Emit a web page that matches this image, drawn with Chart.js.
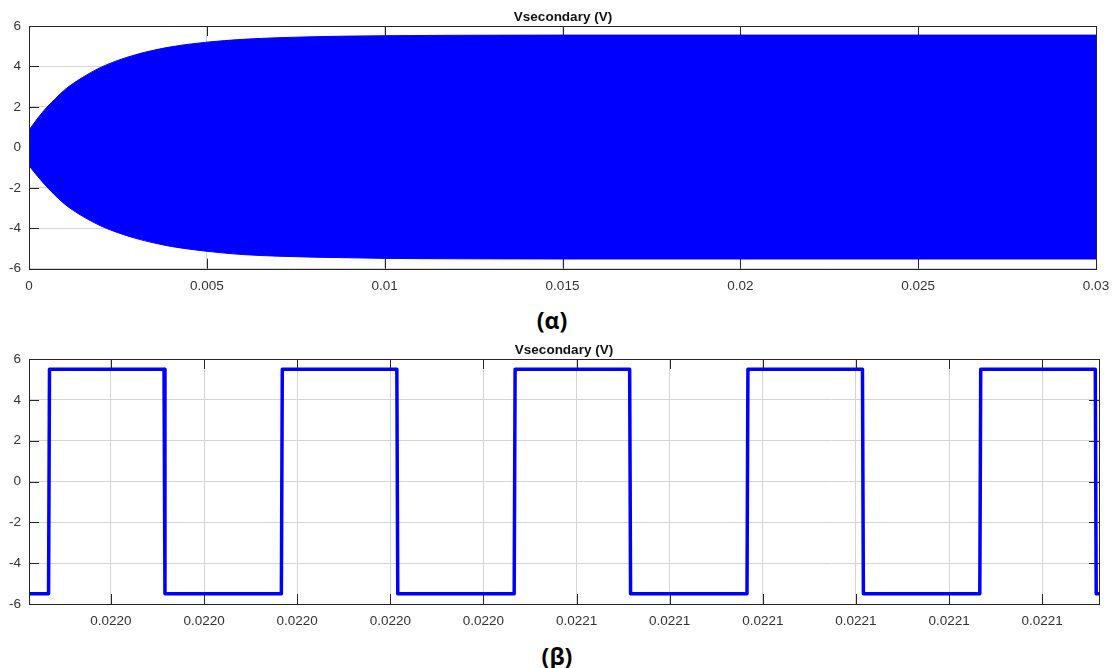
<!DOCTYPE html>
<html>
<head>
<meta charset="utf-8">
<title>Vsecondary</title>
<script src="https://cdn.jsdelivr.net/npm/chart.js@4.4.1/dist/chart.umd.min.js"></script>
<style>
  html, body { margin: 0; padding: 0; background: #fff; }
  body { width: 1112px; height: 668px; position: relative; overflow: hidden; }
  .box { position: absolute; left: 0; width: 1112px; height: 300px; }
  .caption, .title {
    position: absolute; transform: translate(-50%, -50%); white-space: nowrap; line-height: 1;
  }
  .caption { font-family: "Open Sans", sans-serif; font-weight: 700; font-size: 23px; color: #000; }
  .title { font-family: "Liberation Sans", Arial, sans-serif; font-weight: 700; font-size: 13.5px; color: #111; }
</style>
</head>
<body>
<div class="box" style="top:0"><canvas id="chartTop"></canvas></div>
<div class="title" style="left:563px; top:16.5px">Vsecondary (V)</div>
<div class="caption" style="left:552px; top:320px">(α)</div>
<div class="box" style="top:333px"><canvas id="chartBottom"></canvas></div>
<div class="title" style="left:564px; top:350px">Vsecondary (V)</div>
<div class="caption" style="left:557px; top:656px">(β)</div>

<script>
// (α) envelope of the fast oscillation
const envTime = [0, 0.00025, 0.0005, 0.00075, 0.001, 0.0015, 0.002, 0.0025, 0.003, 0.0035, 0.004, 0.0045,
  0.005, 0.006, 0.007, 0.008, 0.009, 0.01, 0.012, 0.015, 0.02, 0.025, 0.03];
const envUpper = [0.85, 1.45, 1.98, 2.42, 2.84, 3.45, 3.94, 4.3, 4.58, 4.8, 4.97, 5.1,
  5.2, 5.34, 5.42, 5.47, 5.5, 5.52, 5.54, 5.55, 5.55, 5.55, 5.55];
const envLower = [-0.9, -1.45, -1.95, -2.4, -2.8, -3.4, -3.87, -4.22, -4.5, -4.72, -4.9, -5.03,
  -5.14, -5.3, -5.38, -5.43, -5.46, -5.49, -5.51, -5.52, -5.52, -5.52, -5.52];

// (β) zoomed square wave
const sqTime = [0.02204410, 0.02204433, 0.02204434, 0.02204557, 0.02204558, 0.02204683, 0.02204684,
  0.02204807, 0.02204808, 0.02204933, 0.02204934, 0.02205057, 0.02205058, 0.02205183, 0.02205184,
  0.02205307, 0.02205308, 0.02205433, 0.02205434, 0.02205557, 0.02205558, 0.02205570];
const sqVolt = [-5.5, -5.5, 5.5, 5.5, -5.5, -5.5, 5.5,
  5.5, -5.5, -5.5, 5.5, 5.5, -5.5, -5.5, 5.5,
  5.5, -5.5, -5.5, 5.5, 5.5, -5.5, -5.5];

// ticks
const yTickValues = [-6, -4, -2, 0, 2, 4, 6];
const yTickLabels = ["-6", "-4", "-2", "0", "2", "4", "6"];
const topXTickValues = [0, 0.005, 0.01, 0.015, 0.02, 0.025, 0.03];
const topXTickLabels = ["0", "0.005", "0.01", "0.015", "0.02", "0.025", "0.03"];
const botXTickValues = [0.022045, 0.022046, 0.022047, 0.022048, 0.022049, 0.022050,
  0.022051, 0.022052, 0.022053, 0.022054, 0.022055];
const botXTickLabels = ["0.0220", "0.0220", "0.0220", "0.0220", "0.0220", "0.0221",
  "0.0221", "0.0221", "0.0221", "0.0221", "0.0221"];

const BLUE = "rgb(0,0,255)";
const AXIS = "#262626";
const GRID = "#d4d4d4";
const TICK_FONT = { family: "'Liberation Sans', Arial, sans-serif", size: 13.5 };

// matlab style: ticks inside the box, drawn under the data, box drawn over it
const matlabBox = {
  id: "matlabBox",
  beforeDatasetsDraw(chart) {
    const { ctx, chartArea: a, scales } = chart;
    const len = 10;
    ctx.save();
    ctx.strokeStyle = AXIS;
    ctx.lineWidth = 1;
    ctx.beginPath();
    scales.x.ticks.forEach((t) => {
      const px = Math.round(scales.x.getPixelForValue(t.value)) + 0.5;
      ctx.moveTo(px, a.top); ctx.lineTo(px, a.top + len);
      ctx.moveTo(px, a.bottom); ctx.lineTo(px, a.bottom - len);
    });
    scales.y.ticks.forEach((t) => {
      const py = Math.round(scales.y.getPixelForValue(t.value)) + 0.5;
      ctx.moveTo(a.left, py); ctx.lineTo(a.left + len, py);
      ctx.moveTo(a.right, py); ctx.lineTo(a.right - len, py);
    });
    ctx.stroke();
    ctx.restore();
  },
  afterDatasetsDraw(chart) {
    const { ctx, chartArea: a } = chart;
    ctx.save();
    ctx.strokeStyle = AXIS;
    ctx.lineWidth = 1;
    ctx.strokeRect(Math.round(a.left) + 0.5, Math.round(a.top) + 0.5,
      Math.round(a.right - a.left), Math.round(a.bottom - a.top));
    ctx.restore();
  },
};

function makeOptions(xMin, xMax, xVals, xLabels, xHeight, padRight) {
  return {
    responsive: true,
    maintainAspectRatio: false,
    animation: false,
    layout: { padding: { left: 0, right: padRight, top: 26, bottom: 0 } },
    plugins: {
      legend: { display: false },
      tooltip: { enabled: false },
      title: { display: false },
    },
    scales: {
      x: {
        type: "linear",
        min: xMin,
        max: xMax,
        afterBuildTicks: (axis) => { axis.ticks = xVals.map((v) => ({ value: v })); },
        afterFit: (axis) => {
          axis.height = xHeight;
          axis.paddingLeft = 0;
          axis.paddingRight = 0;
        },
        grid: { color: GRID, drawTicks: false },
        border: { display: false },
        ticks: {
          autoSkip: false, maxRotation: 0, padding: 9,
          color: "#333", font: TICK_FONT,
          callback: (value, index) => xLabels[index],
        },
      },
      y: {
        min: -6,
        max: 6,
        afterBuildTicks: (axis) => { axis.ticks = yTickValues.map((v) => ({ value: v })); },
        afterFit: (axis) => {
          axis.width = 29;
          axis.paddingTop = 0;
          axis.paddingBottom = 0;
        },
        grid: { color: GRID, drawTicks: false },
        border: { display: false },
        ticks: {
          padding: 8,
          color: "#333", font: TICK_FONT,
          callback: (value, index) => yTickLabels[index],
        },
      },
    },
  };
}

document.addEventListener("DOMContentLoaded", function () {
  const upperPts = envTime.map((t, i) => ({ x: t, y: envUpper[i] }));
  const lowerPts = envTime.map((t, i) => ({ x: t, y: envLower[i] }));

  new Chart(document.getElementById("chartTop"), {
    type: "line",
    data: {
      datasets: [
        {
          data: upperPts, fill: "+1", backgroundColor: BLUE, borderColor: BLUE,
          borderWidth: 1, pointRadius: 0, cubicInterpolationMode: "monotone",
        },
        {
          data: lowerPts, fill: false, borderColor: BLUE,
          borderWidth: 1, pointRadius: 0, cubicInterpolationMode: "monotone",
        },
      ],
    },
    options: makeOptions(0, 0.03, topXTickValues, topXTickLabels, 31.3, 16),
    plugins: [matlabBox],
  });

  const sqPts = sqTime.map((t, i) => ({ x: t, y: sqVolt[i] }));

  new Chart(document.getElementById("chartBottom"), {
    type: "line",
    data: {
      datasets: [
        {
          data: sqPts, fill: false, borderColor: BLUE, borderWidth: 3.5,
          borderJoinStyle: "round", pointRadius: 0, tension: 0,
        },
      ],
    },
    options: makeOptions(0.02204412, 0.02205561, botXTickValues, botXTickLabels, 29, 13),
    plugins: [matlabBox],
  });
});
</script>
</body>
</html>
